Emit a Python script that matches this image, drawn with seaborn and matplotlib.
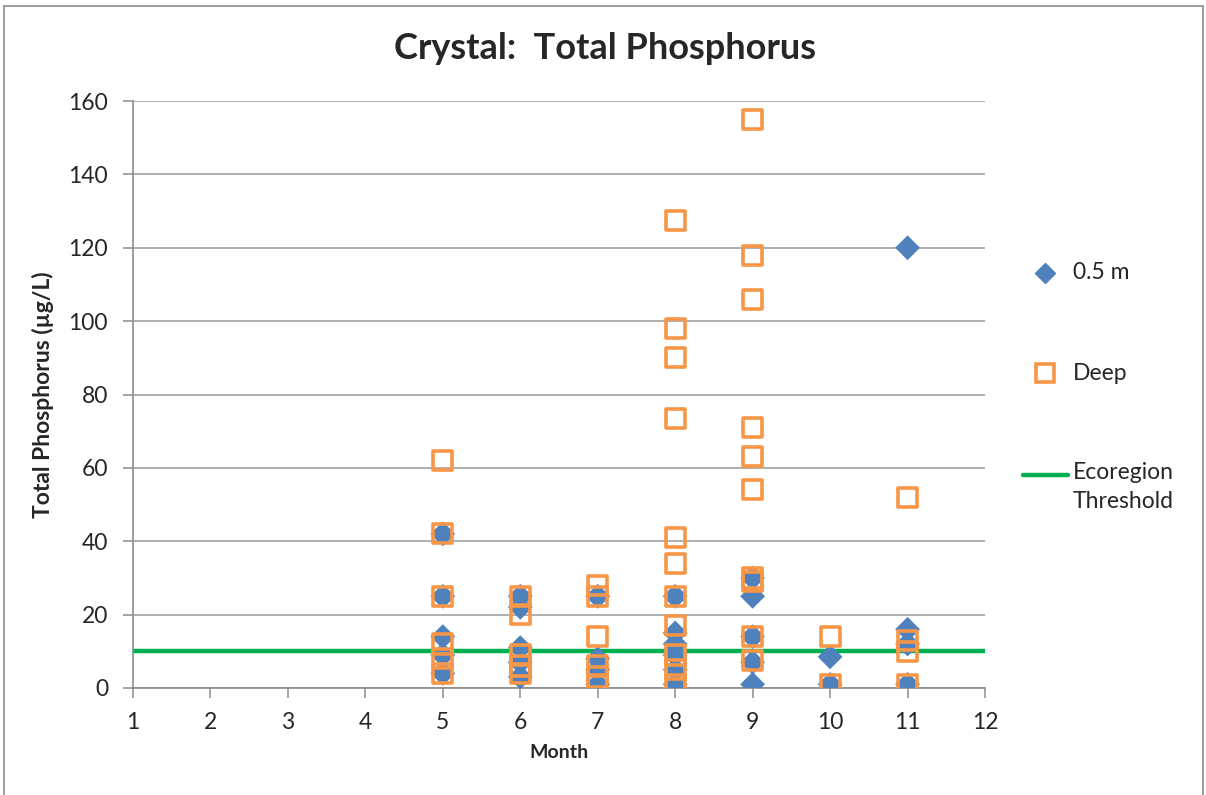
import matplotlib
matplotlib.use("Agg")
import matplotlib.pyplot as plt
from matplotlib.lines import Line2D
import seaborn as sns
import pandas as pd

# values, per month
shallow_month = [5, 5, 5, 5, 5,
                 6, 6, 6, 6, 6,
                 7, 7, 7, 7,
                 8, 8, 8, 8, 8, 8,
                 9, 9, 9, 9, 9,
                 10, 10,
                 11, 11, 11, 11]
shallow_tp = [42, 25, 14, 9, 4,
              25, 22, 11, 7, 3,
              25, 8, 5, 1,
              25, 15, 12, 9, 5, 1,
              30, 25, 14, 7, 1,
              8.5, 1,
              120, 16, 12, 1]

deep_month = [5, 5, 5, 5, 5, 5,
              6, 6, 6, 6, 6,
              7, 7, 7, 7, 7, 7,
              8, 8, 8, 8, 8, 8, 8, 8, 8, 8, 8,
              9, 9, 9, 9, 9, 9, 9, 9, 9, 9,
              10, 10,
              11, 11, 11, 11]
deep_tp = [62, 42, 25, 12, 8, 4,
           25, 20, 9, 6, 4,
           28, 25, 14, 6, 3, 1,
           127.5, 98, 90, 73.5, 41, 34, 25, 17, 9, 5, 1,
           155, 118, 106, 71, 63, 54, 30, 29, 14, 7.5,
           14, 1,
           52, 13, 10, 1]

threshold = 10
x_ticks = list(range(1, 13))
y_ticks = list(range(0, 161, 20))
legend_labels = ["0.5 m", "Deep", "Ecoregion\nThreshold"]

df_shallow = pd.DataFrame({"Month": shallow_month, "TP": shallow_tp})
df_deep = pd.DataFrame({"Month": deep_month, "TP": deep_tp})

sns.set_style("white")
plt.rcParams['font.family'] = ['Lato', 'DejaVu Sans']

W, H = 1206, 795
fig = plt.figure(figsize=(W / 100, H / 100), dpi=100)
ax = fig.add_axes([133 / W, 1 - 688 / H, 852 / W, 587 / H])

blue = "#4F81BD"
orange = "#F79646"
green = "#00B050"

ax.axhline(threshold, color=green, lw=3.2, zorder=2)
sns.scatterplot(data=df_shallow, x="Month", y="TP", marker="D", s=160,
                color=blue, edgecolor="none", ax=ax, zorder=3)
sns.scatterplot(data=df_deep, x="Month", y="TP", marker="s", s=190,
                facecolor="none", edgecolor=orange, linewidth=2.6, ax=ax, zorder=4)

ax.set_xlim(1, 12)
ax.set_ylim(0, 160)
ax.set_xticks(x_ticks)
ax.set_yticks(y_ticks)
ax.yaxis.grid(True, color="#989898", lw=1.1)
ax.set_axisbelow(True)
for s in ["top", "right"]:
    ax.spines[s].set_visible(False)
for s in ["left", "bottom"]:
    ax.spines[s].set_color("#8C8C8C")
    ax.spines[s].set_linewidth(1.2)
ax.tick_params(axis="both", direction="out", length=7, width=1.1, color="#8C8C8C",
               labelsize=16.5, bottom=True, left=True)
ax.tick_params(axis="y", pad=11)
ax.tick_params(axis="x", pad=10)

# title is centred on the whole chart, not on the plot area
ax.set_title("Crystal:  Total Phosphorus", fontsize=26, fontweight="bold", pad=30,
             x=(605 - 133) / 852)
ax.set_ylabel("Total Phosphorus (µg/L)", fontsize=16.5, fontweight="bold", labelpad=10)
ax.set_xlabel("Month", fontsize=14, fontweight="bold", labelpad=8)

# legend keys, placed like the original chart's legend column
def fx(px):
    return px / W

def fy(py):
    return 1 - py / H

fig.add_artist(Line2D([fx(1045)], [fy(273)], marker="D", color=blue, ls="none",
                      markersize=10, transform=fig.transFigure))
fig.add_artist(Line2D([fx(1045)], [fy(373)], marker="s", ls="none", markerfacecolor="none",
                      markeredgecolor=orange, markeredgewidth=2.6, markersize=13,
                      transform=fig.transFigure))
fig.add_artist(Line2D([fx(1023), fx(1068)], [fy(475), fy(475)], color=green, lw=3.2,
                      transform=fig.transFigure))
fig.text(fx(1073), fy(273), legend_labels[0], fontsize=16.5, va="center", ha="left")
fig.text(fx(1073), fy(373), legend_labels[1], fontsize=16.5, va="center", ha="left")
fig.text(fx(1073), fy(462), legend_labels[2], fontsize=16.5, va="top", ha="left",
         linespacing=1.45)

# chart border
for xs, ys in [([fx(4), fx(4)], [0, fy(6)]),
               ([fx(4), fx(1203)], [fy(6), fy(6)]),
               ([fx(1203), fx(1203)], [0, fy(6)])]:
    fig.add_artist(Line2D(xs, ys, color="#8C8C8C", lw=1.2, transform=fig.transFigure))

fig.savefig("out.png", dpi=100)
